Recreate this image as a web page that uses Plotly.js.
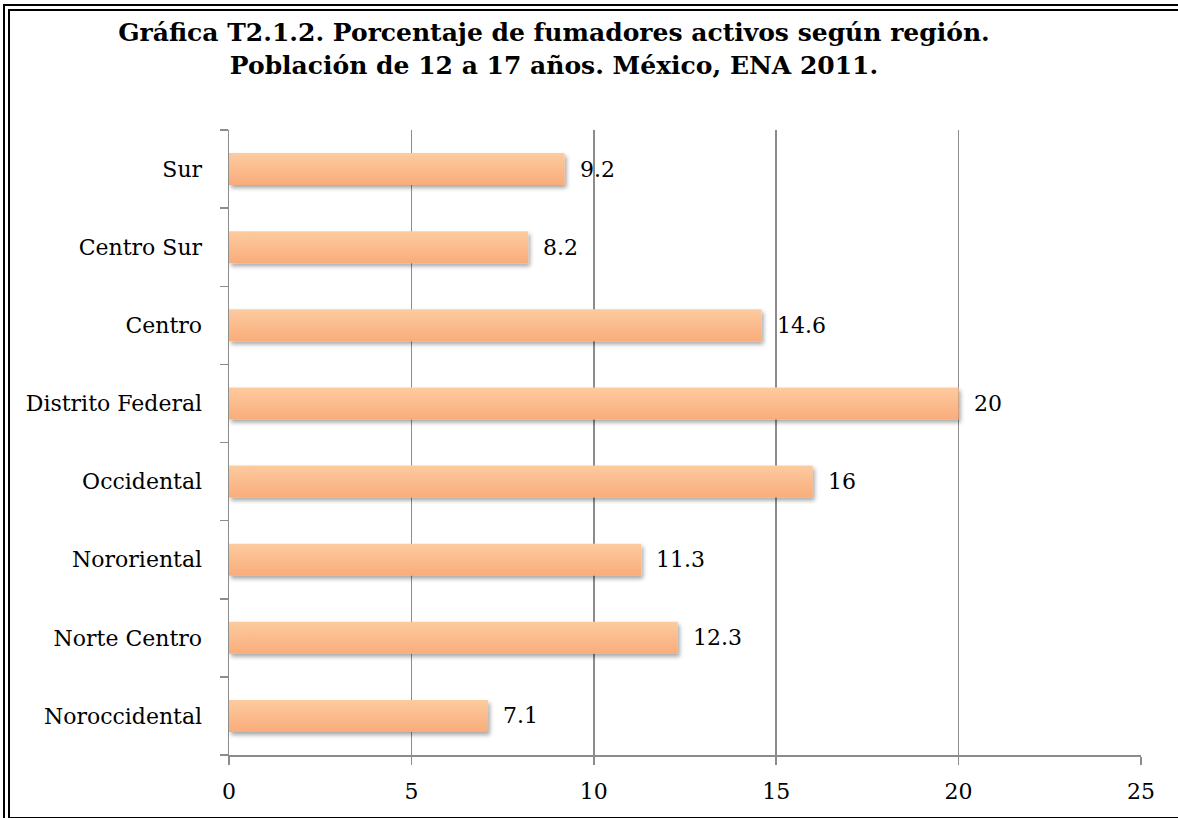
<!DOCTYPE html>
<html>
<head>
<meta charset="utf-8">
<script src="https://cdn.plot.ly/plotly-3.0.1.min.js"></script>
<style>
  html, body { margin: 0; padding: 0; width: 1178px; height: 818px; overflow: hidden; background: #fff; }
  #frame { position: absolute; left: 3px; top: 4px; width: 1175px; height: 820px; box-sizing: border-box; border-style: double; border-color: #000; border-width: 7px 0 7px 7px; }
  #chart { position: absolute; left: 0; top: 0; width: 1178px; height: 818px; }
  .trace.bars .point path { fill: url(#barGrad) !important; filter: url(#barShadow); }
</style>
</head>
<body>
<svg width="0" height="0" style="position:absolute">
  <defs>
    <linearGradient id="barGrad" x1="0" y1="0" x2="0" y2="1">
      <stop offset="0" stop-color="#FDCB9F"/>
      <stop offset="1" stop-color="#F9AC7B"/>
    </linearGradient>
    <filter id="barShadow" x="-5%" y="-30%" width="115%" height="180%">
      <feGaussianBlur in="SourceAlpha" stdDeviation="2"/>
      <feOffset dx="2" dy="3" result="blur"/>
      <feComponentTransfer><feFuncA type="linear" slope="0.35"/></feComponentTransfer>
      <feMerge><feMergeNode/><feMergeNode in="SourceGraphic"/></feMerge>
    </filter>
  </defs>
</svg>
<div id="frame"></div>
<div id="chart"></div>
<script>
const regions = ["Noroccidental", "Norte Centro", "Nororiental", "Occidental", "Distrito Federal", "Centro", "Centro Sur", "Sur"];
const values = [7.1, 12.3, 11.3, 16, 20, 14.6, 8.2, 9.2];
const valueLabels = ["7.1", "12.3", "11.3", "16", "20", "14.6", "8.2", "9.2"];
const xTicks = [0, 5, 10, 15, 20, 25];

const font = "DejaVu Serif, serif";

const trace = {
  type: "bar",
  orientation: "h",
  x: values,
  y: regions,
  marker: { color: "#FBBB8C", line: { width: 0 } },
  hoverinfo: "skip"
};

const annotations = regions.map((r, i) => ({
  x: values[i], y: r, xref: "x", yref: "y",
  text: valueLabels[i], showarrow: false,
  xanchor: "left", yanchor: "middle", xshift: 13,
  font: { family: font, size: 22, color: "#000" }
}));

const layout = {
  width: 1178, height: 818,
  paper_bgcolor: "rgba(0,0,0,0)",
  plot_bgcolor: "rgba(0,0,0,0)",
  margin: { l: 228.5, r: 37, t: 130, b: 63 },
  showlegend: false,
  bargap: 0.59,
  title: {
    text: "<b>Gráfica T2.1.2. Porcentaje de fumadores activos según región.<br>Población de 12 a 17 años. México, ENA 2011.</b>",
    font: { family: font, size: 25, color: "#000" },
    x: 554 / 1178, xanchor: "center", xref: "container",
    y: 1 - 41 / 818, yanchor: "top", yref: "container"
  },
  xaxis: {
    range: [0, 25],
    tickvals: xTicks,
    ticktext: xTicks.map(String),
    showgrid: true, gridcolor: "#8c8c8c", gridwidth: 1.5,
    showline: true, linecolor: "#8c8c8c", linewidth: 1.5,
    ticks: "outside", ticklen: 8, tickwidth: 1.5, tickcolor: "#8c8c8c",
    ticklabelstandoff: 8,
    tickfont: { family: font, size: 22, color: "#000" },
    zeroline: false, fixedrange: true
  },
  yaxis: {
    type: "category",
    categoryorder: "array", categoryarray: regions,
    showgrid: false,
    showline: true, linecolor: "#8c8c8c", linewidth: 1.5,
    ticks: "outside", tickson: "boundaries", ticklen: 8, tickwidth: 1.5, tickcolor: "#8c8c8c",
    ticklabelstandoff: 21,
    tickfont: { family: font, size: 22, color: "#000" },
    zeroline: false, fixedrange: true
  },
  annotations: annotations
};

Plotly.newPlot("chart", [trace], layout, { displayModeBar: false, staticPlot: true });
</script>
</body>
</html>
